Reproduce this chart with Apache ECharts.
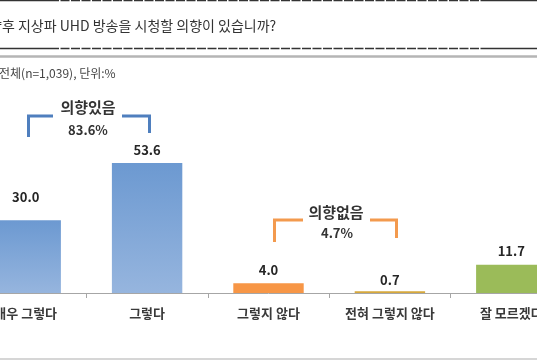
<!DOCTYPE html>
<html>
<head>
<meta charset="utf-8">
<script src="https://cdn.jsdelivr.net/npm/echarts@6/dist/echarts.min.js"></script>
<style>html,body{margin:0;padding:0;background:#fff}#c{width:537px;height:360px}</style>
</head>
<body>
<div id="c"></div>
<script>
var categories = ['매우 그렇다', '그렇다', '그렇지 않다', '전혀 그렇지 않다', '잘 모르겠다'];
var values = [30.0, 53.6, 4.0, 0.7, 11.7];
var barColors = [
  {type:'linear',x:0,y:0,x2:0,y2:1,colorStops:[{offset:0,color:'#6c99d1'},{offset:1,color:'#96b5de'}]},
  {type:'linear',x:0,y:0,x2:0,y2:1,colorStops:[{offset:0,color:'#6c99d1'},{offset:1,color:'#96b5de'}]},
  '#f79646', '#d6a83c', '#9bbb59'
];
var labelDist = [17, 6, 7, 5, 7];
var titleText = '향후 지상파 UHD 방송을 시청할 의향이 있습니까?';
var noteText = '전체(n=1,039), 단위:%';

var F = '"Noto Sans CJK KR", "Noto Sans", sans-serif';
var chart = echarts.init(document.getElementById('c'));
var blue = '#4f7fbe', orange = '#f39a4e';
function line(pts, color, w, dash){
  return {type:'polyline', shape:{points:pts}, style:{stroke:color, lineWidth:w, fill:null, lineDash:dash||null}, z:10};
}
function dashRule(y){
  return [
    line([[0,y],[50,y]], '#333', 1.3),
    line([[50,y],[489,y]], '#333', 1.3, [9,1.5]),
    line([[489,y],[537,y]], '#333', 1.3)
  ];
}
function txt(x,y,t,size,weight,color,align){
  return {type:'text', x:x, y:y, style:{text:t, font:(weight||'normal')+' '+size+'px '+F, fill:color||'#333', textAlign:align||'center', textVerticalAlign:'middle'}, z:10};
}
var g = [].concat(
  dashRule(0.7),
  dashRule(48.5),
  [
    txt(-11, 26, titleText, 14, 'normal', '#333', 'left'),
    line([[0,56.5],[537,56.5]], '#b5b5b5', 2.5),
    txt(-1, 73, noteText, 12, 'normal', '#444', 'left'),
    line([[0,359],[537,359]], '#c8c8c8', 1.5),
    line([[28.5,137],[28.5,116],[53,116]], blue, 3),
    line([[122,116],[149.5,116],[149.5,133]], blue, 3),
    txt(88, 107, '의향있음', 15, 'bold', '#333'),
    txt(88, 130, '83.6%', 13, 'bold', '#333'),
    line([[274.5,242],[274.5,220],[303,220]], orange, 3),
    line([[370,220],[396.5,220],[396.5,238]], orange, 3),
    txt(336, 212, '의향없음', 15, 'bold', '#333'),
    txt(337, 233, '4.7%', 13, 'bold', '#333')
  ]
);
chart.setOption({
  animation:false,
  grid:{left:-35, width:607, top:147.5, bottom:67, containLabel:false, outerBoundsMode:'none'},
  xAxis:{type:'category', data:categories,
    axisLine:{lineStyle:{color:'#a6a6a6', width:1}},
    axisTick:{show:true, length:5, lineStyle:{color:'#a6a6a6'}},
    axisLabel:{fontFamily:F, fontSize:13, fontWeight:'bold', color:'#3a3a3a', margin:14, interval:0}
  },
  yAxis:{type:'value', min:0, max:60, show:false, splitLine:{show:false}},
  series:[{type:'bar', barWidth:'58%',
    data: values.map(function(v,i){return {value:v, itemStyle:{color:barColors[i]}, label:{distance:labelDist[i]}};}),
    label:{show:true, position:'top', formatter:function(p){return p.value.toFixed(1);}, fontFamily:F, fontSize:13, fontWeight:'bold', color:'#262626'}
  }],
  graphic:g
});
</script>
</body>
</html>
